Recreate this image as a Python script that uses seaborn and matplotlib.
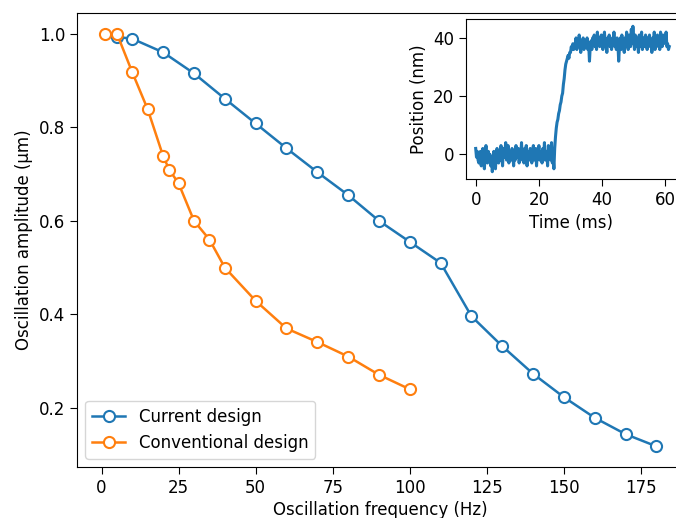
import numpy as np
import matplotlib
matplotlib.use("Agg")
import matplotlib.pyplot as plt
import seaborn as sns

# main panel: amplitude vs frequency
current_freq = [5, 10, 20, 30, 40, 50, 60, 70, 80, 90, 100, 110, 120, 130, 140, 150, 160, 170, 180]
current_amp = [0.993, 0.989, 0.960, 0.915, 0.861, 0.808, 0.755, 0.704, 0.655, 0.600, 0.555,
               0.510, 0.396, 0.332, 0.273, 0.223, 0.179, 0.144, 0.118]

conv_freq = [1, 5, 10, 15, 20, 22, 25, 30, 35, 40, 50, 60, 70, 80, 90, 100]
conv_amp = [1.0, 1.0, 0.917, 0.838, 0.738, 0.709, 0.680, 0.600, 0.560, 0.500, 0.429,
            0.370, 0.341, 0.310, 0.271, 0.240]

position_nm = [
    2, -1, 1, -2, -3, 0, 1, -4, -1, 2, -2, -5, 0, 3, -1, -3, 1, -2, 0, -4,
    -1, -6, -2, 1, -3, -5, 0, 2, -1, -3, 1, -2, 3, 0, -4, 2, -1, 1, 4, -2,
    0, 3, -3, 1, -1, -2, 2, 0, -4, 1, -2, 3, -1, 0, 2, -3, 1, -1, 4, -2,
    0, -3, 2, -1, 3, -4, 1, 0, -2, 2, -1, -3, 1, 3, -2, 0, 2, -4, 1, -1,
    3, -2, 0, 1, -3, 2, -1, 4, -2, 0, 1, -4, 3, -1, 2, -2, 4, -3, -1, -5,
    2, 6, 9, 11, 12, 14, 15, 17, 18, 20, 21, 24, 26, 29, 31, 32, 33, 34, 33, 35,
    35, 37, 36, 38, 36, 37, 38, 40, 36, 39, 37, 41, 38, 35, 39, 37, 40, 36, 38, 39,
    37, 40, 36, 38, 32, 37, 39, 36, 40, 38, 41, 37, 39, 36, 42, 38, 40, 37, 39, 41,
    38, 36, 40, 42, 37, 39, 35, 40, 38, 41, 37, 39, 36, 40, 38, 42, 37, 39, 36, 40,
    38, 32, 37, 40, 36, 41, 38, 39, 35, 40, 37, 42, 38, 36, 41, 39, 37, 43, 38, 44,
    39, 36, 41, 37, 40, 38, 35, 41, 37, 39, 42, 36, 40, 38, 37, 41, 39, 36, 40, 38,
    41, 37, 39, 35, 40, 38, 42, 36, 39, 37, 41, 38, 40, 36, 42, 39, 37, 41, 38, 40,
    39, 42, 37, 38, 36, 37,
]
time_ms = np.arange(len(position_nm)) * 0.25

BLUE = "#1f77b4"
ORANGE = "#ff7f0e"
FS = 12

plt.rcParams["font.family"] = ["DejaVu Sans"]
plt.rcParams["font.size"] = FS

fig = plt.figure(figsize=(6.76, 5.18), dpi=100)
# the original is cropped on the right, so the axes run past the figure edge
ax = fig.add_axes([77 / 676, 51 / 518, 630 / 676, 454 / 518])

mk = dict(marker="o", markersize=8, markerfacecolor="white", markeredgewidth=1.5,
          linewidth=1.8)
sns.lineplot(x=current_freq, y=current_amp, ax=ax, color=BLUE, markeredgecolor=BLUE,
             label="Current design", sort=False, **mk)
sns.lineplot(x=conv_freq, y=conv_amp, ax=ax, color=ORANGE, markeredgecolor=ORANGE,
             label="Conventional design", sort=False, **mk)

ax.set_xlim(-7.95, -7.95 + 630 / 3.083)
ax.set_xticks([0, 25, 50, 75, 100, 125, 150, 175])
ax.set_yticks([0.2, 0.4, 0.6, 0.8, 1.0])
ax.set_xlabel("Oscillation frequency (Hz)", fontsize=FS)
ax.xaxis.set_label_coords((380.5 - 77) / 630, -0.075)
ax.set_ylabel("Oscillation amplitude (\u03bcm)", fontsize=FS)
ax.tick_params(labelsize=FS, length=5)
ax.spines["right"].set_visible(False)
ax.legend(loc="lower left", fontsize=FS)

# inset
ins = fig.add_axes([466 / 676, (518 - 179) / 518, 230 / 676, 160 / 518])
sns.lineplot(x=time_ms, y=position_nm, ax=ins, color=BLUE, linewidth=2.2, sort=False)
ins.set_xlim(-3.07, -3.07 + 230 / 3.16)
ins.set_xticks([0, 20, 40, 60])
ins.set_yticks([0, 20, 40])
ins.set_xlabel("Time (ms)", fontsize=FS)
ins.xaxis.set_label_coords((571 - 466) / 230, -0.22)
ins.set_ylabel("Position (nm)", fontsize=FS)
ins.tick_params(labelsize=FS, length=5)
ins.spines["right"].set_visible(False)

fig.savefig("out.png", dpi=100)
